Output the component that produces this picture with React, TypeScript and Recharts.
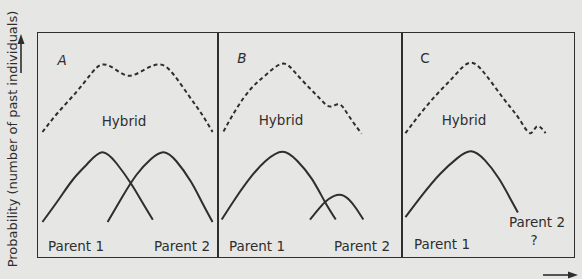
import React from 'react';
import { LineChart, Line, XAxis, YAxis } from 'recharts';

type Pt = { x: number; y: number };

// trait value (0-100 across each panel) vs. probability (0-100)
const hybridA: Pt[] = [
  { x: 3, y: 56 }, { x: 12, y: 65 }, { x: 22, y: 74 }, { x: 30, y: 82 }, { x: 36, y: 86 },
  { x: 43, y: 84 }, { x: 51, y: 81 }, { x: 60, y: 84 }, { x: 68, y: 86 }, { x: 75, y: 82 },
  { x: 84, y: 72 }, { x: 91, y: 64 }, { x: 97, y: 56 },
];
const parent1A: Pt[] = [
  { x: 3, y: 16 }, { x: 12, y: 26 }, { x: 20, y: 35 }, { x: 28, y: 42 }, { x: 36, y: 47 },
  { x: 44, y: 42 }, { x: 52, y: 33 }, { x: 58, y: 25 }, { x: 64, y: 17 },
];
const parent2A: Pt[] = [
  { x: 39, y: 16 }, { x: 47, y: 27 }, { x: 55, y: 37 }, { x: 63, y: 44 }, { x: 70, y: 47 },
  { x: 77, y: 43 }, { x: 85, y: 34 }, { x: 91, y: 25 }, { x: 97, y: 16 },
];

const hybridB: Pt[] = [
  { x: 3, y: 56 }, { x: 10, y: 66 }, { x: 18, y: 75 }, { x: 26, y: 81 }, { x: 35, y: 86 },
  { x: 42, y: 82 }, { x: 50, y: 75 }, { x: 56, y: 70 }, { x: 61, y: 67 }, { x: 66, y: 68 },
  { x: 71, y: 63 }, { x: 78, y: 55 },
];
const parent1B: Pt[] = [
  { x: 2, y: 17 }, { x: 10, y: 27 }, { x: 18, y: 36 }, { x: 26, y: 43 }, { x: 35, y: 47 },
  { x: 43, y: 43 }, { x: 51, y: 35 }, { x: 58, y: 25 }, { x: 64, y: 17 },
];
const parent2B: Pt[] = [
  { x: 50, y: 17 }, { x: 55, y: 22 }, { x: 60, y: 26 }, { x: 66, y: 28 }, { x: 71, y: 26 },
  { x: 75, y: 22 }, { x: 79, y: 17 },
];

const hybridC: Pt[] = [
  { x: 2, y: 55 }, { x: 10, y: 63 }, { x: 20, y: 72 }, { x: 30, y: 80 }, { x: 39, y: 86 },
  { x: 47, y: 82 }, { x: 55, y: 74 }, { x: 62, y: 67 }, { x: 68, y: 61 }, { x: 74, y: 55 },
  { x: 78, y: 58 }, { x: 83, y: 55 },
];
const parent1C: Pt[] = [
  { x: 2, y: 18 }, { x: 12, y: 28 }, { x: 22, y: 37 }, { x: 32, y: 44 }, { x: 40, y: 47 },
  { x: 48, y: 43 }, { x: 56, y: 35 }, { x: 62, y: 27 }, { x: 67, y: 20 },
];

const INK = '#2e2e2e';
const FONT = '"DejaVu Sans", sans-serif';

type PanelProps = {
  left: number;
  top: number;
  width: number;
  height: number;
  solid: Pt[][];
  dashed: Pt[];
};

function Panel({ left, top, width, height, solid, dashed }: PanelProps) {
  return (
    <div style={{ position: 'absolute', left, top, width, height }}>
      <LineChart width={width} height={height} margin={{ top: 0, right: 0, bottom: 0, left: 0 }}>
        <XAxis type="number" dataKey="x" domain={[0, 100]} hide />
        <YAxis type="number" dataKey="y" domain={[0, 100]} hide />
        <Line
          data={dashed}
          dataKey="y"
          type="natural"
          stroke={INK}
          strokeWidth={2}
          strokeDasharray="4 3"
          dot={false}
          isAnimationActive={false}
        />
        {solid.map((d, i) => (
          <Line
            key={i}
            data={d}
            dataKey="y"
            type="natural"
            stroke={INK}
            strokeWidth={2}
            dot={false}
            isAnimationActive={false}
          />
        ))}
      </LineChart>
    </div>
  );
}

function Txt({ x, y, children, italic }: { x: number; y: number; children: React.ReactNode; italic?: boolean }) {
  return (
    <div
      style={{
        position: 'absolute',
        left: x,
        top: y,
        transform: 'translate(-50%, -50%)',
        fontFamily: FONT,
        fontSize: 13.5,
        fontStyle: italic ? 'italic' : 'normal',
        color: INK,
        whiteSpace: 'nowrap',
      }}
    >
      {children}
    </div>
  );
}

export default function App() {
  return (
    <div
      style={{
        position: 'absolute',
        left: 0,
        top: 0,
        width: 582,
        height: 279,
        background: '#e6e6e4',
        overflow: 'hidden',
      }}
    >
      {/* frame around the three panels */}
      <div
        style={{
          position: 'absolute',
          left: 37,
          top: 32,
          width: 538,
          height: 226,
          border: `1.5px solid ${INK}`,
          boxSizing: 'border-box',
        }}
      />
      <div style={{ position: 'absolute', left: 217, top: 32, width: 1.5, height: 226, background: INK }} />
      <div style={{ position: 'absolute', left: 401, top: 32, width: 1.5, height: 226, background: INK }} />

      <Panel left={37} top={33} width={181} height={225} solid={[parent1A, parent2A]} dashed={hybridA} />
      <Panel left={218} top={32} width={184} height={226} solid={[parent1B, parent2B]} dashed={hybridB} />
      <Panel left={402} top={31} width={173} height={227} solid={[parent1C]} dashed={hybridC} />

      <Txt x={62} y={60} italic>A</Txt>
      <Txt x={124} y={121}>Hybrid</Txt>
      <Txt x={76} y={246}>Parent 1</Txt>
      <Txt x={182} y={246}>Parent 2</Txt>

      <Txt x={242} y={58} italic>B</Txt>
      <Txt x={281} y={120}>Hybrid</Txt>
      <Txt x={257} y={246}>Parent 1</Txt>
      <Txt x={362} y={246}>Parent 2</Txt>

      <Txt x={425} y={58}>C</Txt>
      <Txt x={464} y={120}>Hybrid</Txt>
      <Txt x={442} y={244}>Parent 1</Txt>
      <Txt x={537} y={222}>Parent 2</Txt>
      <Txt x={534} y={240}>?</Txt>

      {/* y axis title */}
      <div
        style={{
          position: 'absolute',
          left: 12,
          top: 139,
          transform: 'translate(-50%, -50%) rotate(-90deg)',
          fontFamily: FONT,
          fontSize: 13,
          color: INK,
          whiteSpace: 'nowrap',
        }}
      >
        Probability (number of past individuals)
      </div>

      {/* axis direction arrows */}
      <svg width={582} height={279} style={{ position: 'absolute', left: 0, top: 0 }}>
        <line x1={21} y1={73} x2={21} y2={42} stroke={INK} strokeWidth={1.6} />
        <polygon points="21,34 17.5,44 24.5,44" fill={INK} />
        <line x1={543} y1={275} x2={570} y2={275} stroke={INK} strokeWidth={1.6} />
        <polygon points="578,275 568,271.5 568,278.5" fill={INK} />
      </svg>
    </div>
  );
}
